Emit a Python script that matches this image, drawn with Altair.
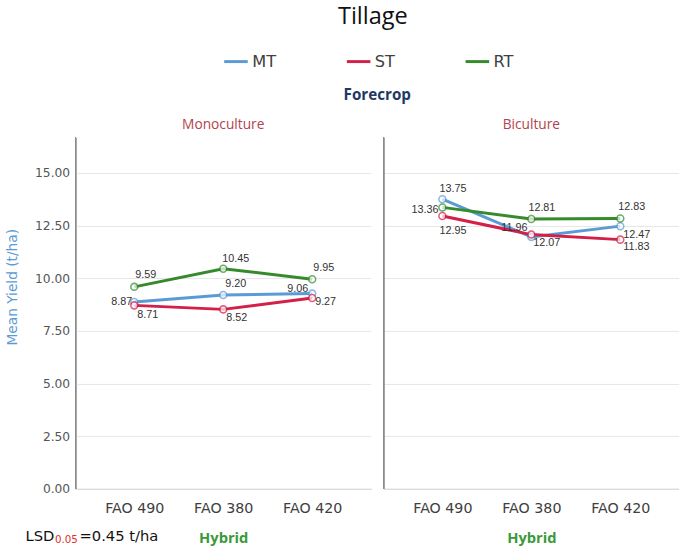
import altair as alt
import pandas as pd

# Mean yield (t/ha) by hybrid, tillage system and forecrop
hybrids = ["FAO 490", "FAO 380", "FAO 420"]
forecrops = ["Monoculture", "Biculture"]
tillage = ["MT", "ST", "RT"]

mt_mono = [8.87, 9.20, 9.27]
st_mono = [8.71, 8.52, 9.06]
rt_mono = [9.59, 10.45, 9.95]

mt_bi = [13.75, 11.96, 12.47]
st_bi = [12.95, 12.07, 11.83]
rt_bi = [13.36, 12.81, 12.83]

# Value-label placement: (pixel dx, pixel dy, text align) per point
label_place = {
    ("Monoculture", "MT"): [(-2, 0, "right"), (2, -11, "left"), (3, 9, "left")],
    ("Monoculture", "ST"): [(3, 10, "left"), (3, 9, "left"), (-4, -9.5, "right")],
    ("Monoculture", "RT"): [(1, -12, "left"), (-1, -10, "left"), (1, -11, "left")],
    ("Biculture", "MT"): [(-3, -10, "left"), (-4, -9.5, "right"), (3, 9, "left")],
    ("Biculture", "ST"): [(-3, 15, "left"), (2, 9, "left"), (3, 8, "left")],
    ("Biculture", "RT"): [(-4, 3, "right"), (-3, -11, "left"), (-2, -11.5, "left")],
}

series = {
    ("Monoculture", "MT"): mt_mono,
    ("Monoculture", "ST"): st_mono,
    ("Monoculture", "RT"): rt_mono,
    ("Biculture", "MT"): mt_bi,
    ("Biculture", "ST"): st_bi,
    ("Biculture", "RT"): rt_bi,
}

rows = []
for (fc, tl), vals in series.items():
    for i, (h, v) in enumerate(zip(hybrids, vals)):
        dx, dy, al = label_place[(fc, tl)][i]
        rows.append({"forecrop": fc, "tillage": tl, "hybrid": h, "yield": v,
                     "dx": dx, "dy": dy, "align": al})
df = pd.DataFrame(rows)

colors = ["#5b9bd5", "#d41f48", "#358a2c"]
PW, PH, GAP = 301, 358, 13

x_enc = alt.X("hybrid:N", sort=hybrids, title="Hybrid",
              scale=alt.Scale(padding=0.66),
              axis=alt.Axis(labelAngle=0, ticks=False, domainColor="#8c8c8c",
                            labelFont="DejaVu Sans", labelFontSize=14.5,
                            labelColor="#404040", labelPadding=13,
                            titleColor="#3a9a3a", titleFont="Open Sans",
                            titleFontWeight="bold", titleFontSize=15,
                            titlePadding=16))
y_enc = alt.Y("yield:Q", title="Mean Yield (t/ha)",
              scale=alt.Scale(domain=[0, 16.67], nice=False, zero=True),
              axis=alt.Axis(values=[0, 2.5, 5, 7.5, 10, 12.5, 15], format=".2f",
                            ticks=False, domainColor="#8c8c8c", gridColor="#e6e6e6",
                            labelFont="DejaVu Sans", labelFontSize=12.5,
                            labelColor="#555555", labelPadding=6,
                            titleColor="#5b9bd5", titleFont="DejaVu Sans",
                            titleFontSize=14, titleFontWeight="normal",
                            titleX=-57, titleY=152))
color_enc = alt.Color("tillage:N", sort=tillage,
                      scale=alt.Scale(domain=tillage, range=colors),
                      legend=alt.Legend(title=None, orient="none", direction="horizontal",
                                        legendX=150, legendY=-91, symbolType="stroke",
                                        symbolSize=576, symbolStrokeWidth=3,
                                        labelFont="DejaVu Sans", labelFontSize=16.5,
                                        labelColor="#404040", columnPadding=65,
                                        labelOffset=3))

base = alt.Chart().encode(x=x_enc, y=y_enc)

lines = base.mark_line(strokeWidth=3).encode(color=color_enc)
points = base.mark_point(size=50, filled=False, fill="white", strokeWidth=1.6).encode(
    color=alt.Color("tillage:N", sort=tillage,
                    scale=alt.Scale(domain=tillage, range=colors), legend=None))

labels = base.mark_text(
    font="Liberation Sans", fontSize=11, color="#333333", baseline="middle",
    dx=alt.ExprRef("datum.dx"), dy=alt.ExprRef("datum.dy"),
    align=alt.ExprRef("datum.align"),
).encode(text=alt.Text("yield:Q", format=".2f"))

# Left axis line for every panel
vline = alt.Chart().mark_rule(color="#8c8c8c", strokeWidth=1).encode(
    x=alt.value(0), y=alt.value(0), y2=alt.value(PH))

# Single-row source for the annotations drawn once, from the first panel
one = (alt.Chart()
       .transform_filter((alt.datum.forecrop == "Monoculture") &
                         (alt.datum.tillage == "MT") & (alt.datum.hybrid == "FAO 490")))

# "Forecrop" heading centred over both panels
forecrop_title = one.mark_text(align="center", baseline="middle", font="Open Sans",
                               fontSize=15.5, fontWeight="bold", color="#1f3864").encode(
    x=alt.value(PW + GAP / 2), y=alt.value(-43), text=alt.value("Forecrop"))

# LSD note beneath the first panel
lsd_a = one.mark_text(align="left", baseline="middle", font="DejaVu Sans", fontSize=15,
                      color="#111111").encode(
    x=alt.value(-51), y=alt.value(PH + 48), text=alt.value("LSD"))
lsd_b = one.mark_text(align="left", baseline="middle", font="DejaVu Sans", fontSize=10.5,
                      color="#e0302e").encode(
    x=alt.value(-21), y=alt.value(PH + 52), text=alt.value("0.05"))
lsd_c = one.mark_text(align="left", baseline="middle", font="DejaVu Sans", fontSize=15,
                      color="#111111").encode(
    x=alt.value(4), y=alt.value(PH + 48), text=alt.value("=0.45 t/ha"))

layered = alt.layer(vline, lines, points, labels, forecrop_title, lsd_a, lsd_b, lsd_c,
                    width=PW, height=PH)

chart = layered.facet(
    data=df,
    column=alt.Column("forecrop:N", sort=forecrops,
                      header=alt.Header(title=None,
                                        labelFont="Open Sans", labelFontSize=14,
                                        labelColor="#b0444c", labelPadding=6)),
    spacing=GAP,
    bounds="flush",
).properties(
    title=alt.TitleParams("Tillage", font="Open Sans", fontSize=24, fontWeight="normal",
                          color="#111111", anchor="middle", dx=31, offset=20),
    padding={"left": 6, "top": 0, "right": 0, "bottom": 0},
).configure_view(stroke=None)

chart.save("out.html", embed_options={"renderer": "svg", "actions": False})
